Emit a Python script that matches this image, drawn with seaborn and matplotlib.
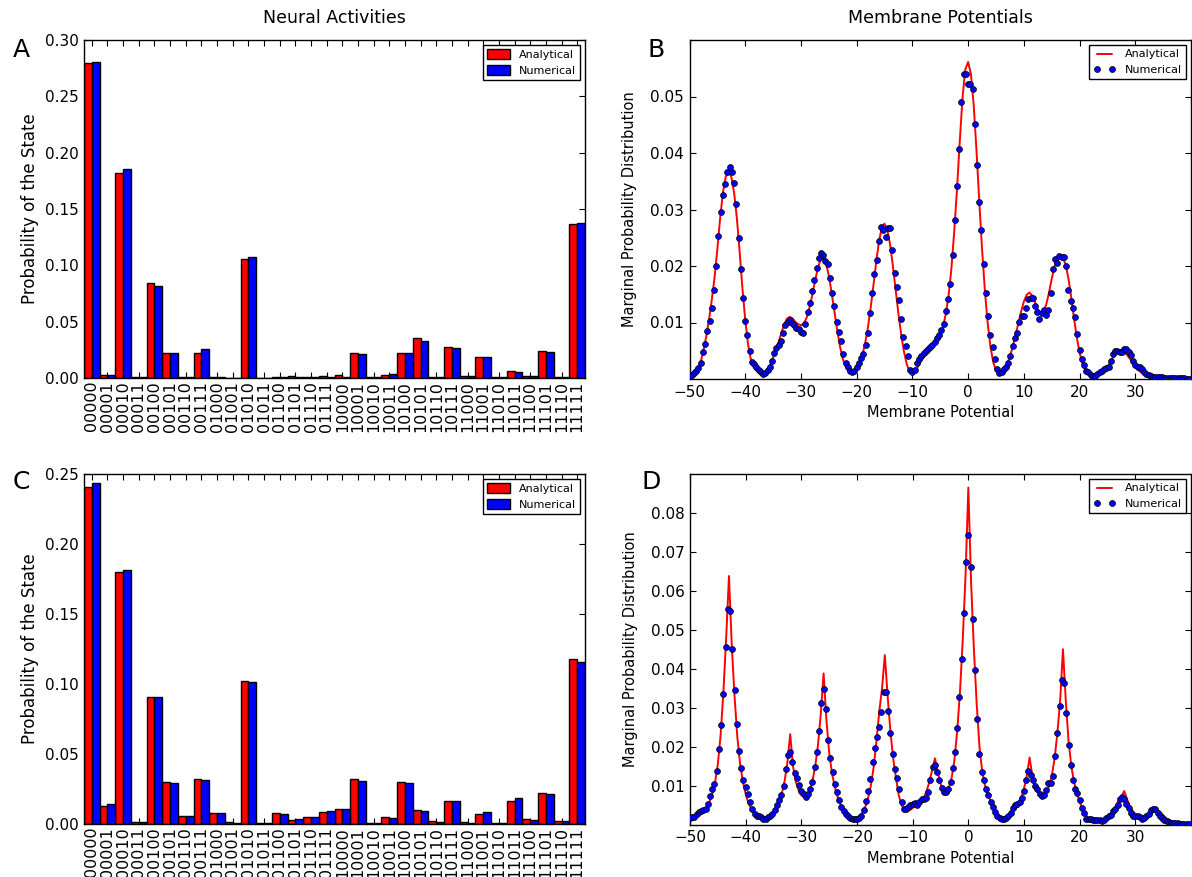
import numpy as np
import pandas as pd
import matplotlib
matplotlib.use("Agg")
import matplotlib.pyplot as plt
from matplotlib.patches import Patch
from matplotlib.lines import Line2D
import seaborn as sns

# ---------------- data ----------------
STATES = ["00000", "00001", "00010", "00011", "00100", "00101", "00110", "00111",
          "01000", "01001", "01010", "01011", "01100", "01101", "01110", "01111",
          "10000", "10001", "10010", "10011", "10100", "10101", "10110", "10111",
          "11000", "11001", "11010", "11011", "11100", "11101", "11110", "11111"]

A_ANALYTICAL = [0.2793, 0.0024, 0.1818, 0.0009, 0.0842, 0.0222, 0.0005, 0.0219,
                0.0010, 0.0004, 0.1058, 0.0002, 0.0008, 0.0015, 0.0012, 0.0015,
                0.0024, 0.0222, 0.0005, 0.0030, 0.0222, 0.0355, 0.0008, 0.0272,
                0.0020, 0.0186, 0.0005, 0.0062, 0.0015, 0.0239, 0.0005, 0.1366]
A_NUMERICAL = [0.2802, 0.0027, 0.1853, 0.0009, 0.0816, 0.0222, 0.0005, 0.0254,
               0.0008, 0.0003, 0.1073, 0.0002, 0.0008, 0.0012, 0.0012, 0.0013,
               0.0010, 0.0213, 0.0005, 0.0033, 0.0222, 0.0325, 0.0008, 0.0266,
               0.0020, 0.0186, 0.0005, 0.0056, 0.0018, 0.0228, 0.0005, 0.1380]
C_ANALYTICAL = [0.2410, 0.0129, 0.1802, 0.0017, 0.0909, 0.0298, 0.0060, 0.0319,
                0.0076, 0.0012, 0.1023, 0.0005, 0.0076, 0.0026, 0.0050, 0.0083,
                0.0109, 0.0321, 0.0005, 0.0048, 0.0298, 0.0100, 0.0019, 0.0164,
                0.0014, 0.0071, 0.0005, 0.0167, 0.0033, 0.0219, 0.0019, 0.1176]
C_NUMERICAL = [0.2433, 0.0140, 0.1814, 0.0012, 0.0909, 0.0295, 0.0055, 0.0312,
               0.0076, 0.0010, 0.1016, 0.0005, 0.0071, 0.0033, 0.0052, 0.0095,
               0.0105, 0.0310, 0.0005, 0.0045, 0.0290, 0.0095, 0.0014, 0.0162,
               0.0010, 0.0083, 0.0005, 0.0186, 0.0031, 0.0212, 0.0019, 0.1157]

# membrane potential sampling grids (start, step)
V_START = -50.0
ANA_STEP = 0.5
NUM_STEP = 0.4

B_ANALYTICAL = [
    0.0004, 0.0007, 0.0012, 0.0019, 0.0030, 0.0050, 0.0075, 0.0105, 0.0140, 0.0180,
    0.0230, 0.0285, 0.0330, 0.0358, 0.0367, 0.0358, 0.0330, 0.0285, 0.0225, 0.0160,
    0.0105, 0.0062, 0.0035, 0.0022, 0.0015, 0.0010, 0.0008, 0.0010, 0.0016, 0.0025,
    0.0038, 0.0052, 0.0066, 0.0082, 0.0097, 0.0107, 0.0110, 0.0107, 0.0101, 0.0097,
    0.0095, 0.0098, 0.0108, 0.0125, 0.0147, 0.0172, 0.0195, 0.0211, 0.0214, 0.0205,
    0.0183, 0.0153, 0.0120, 0.0087, 0.0058, 0.0036, 0.0022, 0.0014, 0.0011, 0.0012,
    0.0018, 0.0028, 0.0042, 0.0062, 0.0090, 0.0125, 0.0165, 0.0207, 0.0243, 0.0268,
    0.0275, 0.0264, 0.0238, 0.0200, 0.0157, 0.0115, 0.0078, 0.0048, 0.0026, 0.0013,
    0.0009, 0.0014, 0.0022, 0.0031, 0.0038, 0.0044, 0.0049, 0.0054, 0.0060, 0.0068,
    0.0078, 0.0093, 0.0115, 0.0148, 0.0195, 0.0260, 0.0335, 0.0420, 0.0498, 0.0548,
    0.0561, 0.0540, 0.0485, 0.0405, 0.0315, 0.0230, 0.0158, 0.0100, 0.0058, 0.0030,
    0.0015, 0.0010, 0.0012, 0.0018, 0.0027, 0.0040, 0.0057, 0.0077, 0.0098, 0.0119,
    0.0137, 0.0149, 0.0153, 0.0148, 0.0136, 0.0123, 0.0117, 0.0119, 0.0131, 0.0152,
    0.0177, 0.0199, 0.0212, 0.0217, 0.0215, 0.0203, 0.0178, 0.0145, 0.0108, 0.0074,
    0.0047, 0.0028, 0.0016, 0.0010, 0.0007, 0.0006, 0.0007, 0.0009, 0.0012, 0.0016,
    0.0022, 0.0030, 0.0038, 0.0045, 0.0049, 0.0050, 0.0048, 0.0043, 0.0036, 0.0029,
    0.0022, 0.0016, 0.0012, 0.0009, 0.0007, 0.0005, 0.0004, 0.0003, 0.0003, 0.0002,
    0.0002, 0.0002, 0.0001, 0.0001, 0.0001, 0.0001, 0.0001, 0.0001, 0.0000, 0.0000]

B_NUMERICAL = [
    0.0005, 0.0007, 0.0010, 0.0015, 0.0019, 0.0029, 0.0048, 0.0062, 0.0085, 0.0102,
    0.0125, 0.0158, 0.0200, 0.0253, 0.0295, 0.0325, 0.0345, 0.0366, 0.0375, 0.0366,
    0.0347, 0.0310, 0.0250, 0.0195, 0.0144, 0.0103, 0.0078, 0.0049, 0.0030, 0.0026,
    0.0021, 0.0016, 0.0012, 0.0009, 0.0010, 0.0016, 0.0022, 0.0032, 0.0046, 0.0054,
    0.0060, 0.0068, 0.0082, 0.0096, 0.0101, 0.0104, 0.0099, 0.0095, 0.0091, 0.0088,
    0.0084, 0.0082, 0.0097, 0.0118, 0.0135, 0.0156, 0.0176, 0.0197, 0.0215, 0.0223,
    0.0219, 0.0209, 0.0203, 0.0179, 0.0152, 0.0129, 0.0101, 0.0084, 0.0068, 0.0044,
    0.0028, 0.0021, 0.0014, 0.0012, 0.0015, 0.0021, 0.0029, 0.0038, 0.0044, 0.0061,
    0.0082, 0.0116, 0.0152, 0.0185, 0.0210, 0.0244, 0.0269, 0.0263, 0.0252, 0.0267,
    0.0267, 0.0228, 0.0187, 0.0163, 0.0139, 0.0106, 0.0075, 0.0058, 0.0041, 0.0016,
    0.0012, 0.0016, 0.0029, 0.0036, 0.0041, 0.0046, 0.0050, 0.0053, 0.0056, 0.0060,
    0.0066, 0.0072, 0.0078, 0.0087, 0.0098, 0.0120, 0.0142, 0.0168, 0.0219, 0.0282,
    0.0342, 0.0407, 0.0490, 0.0539, 0.0539, 0.0523, 0.0523, 0.0513, 0.0452, 0.0379,
    0.0314, 0.0263, 0.0204, 0.0153, 0.0111, 0.0078, 0.0056, 0.0035, 0.0018, 0.0010,
    0.0013, 0.0018, 0.0022, 0.0029, 0.0040, 0.0059, 0.0073, 0.0082, 0.0101, 0.0112,
    0.0112, 0.0125, 0.0141, 0.0144, 0.0144, 0.0129, 0.0118, 0.0107, 0.0116, 0.0123,
    0.0113, 0.0122, 0.0153, 0.0195, 0.0213, 0.0206, 0.0218, 0.0216, 0.0216, 0.0200,
    0.0158, 0.0138, 0.0126, 0.0109, 0.0079, 0.0052, 0.0036, 0.0024, 0.0015, 0.0012,
    0.0007, 0.0005, 0.0006, 0.0009, 0.0012, 0.0015, 0.0018, 0.0019, 0.0021, 0.0032,
    0.0044, 0.0050, 0.0050, 0.0047, 0.0047, 0.0053, 0.0053, 0.0047, 0.0042, 0.0032,
    0.0024, 0.0021, 0.0021, 0.0018, 0.0013, 0.0009, 0.0007, 0.0005, 0.0004, 0.0004,
    0.0003, 0.0003, 0.0003, 0.0002, 0.0002, 0.0002, 0.0002, 0.0001, 0.0001, 0.0001,
    0.0001, 0.0001, 0.0001, 0.0000, 0.0000]

D_ANALYTICAL = [
    0.0015, 0.0018, 0.0022, 0.0026, 0.0030, 0.0036, 0.0045, 0.0058, 0.0078, 0.0108,
    0.0155, 0.0230, 0.0340, 0.0480, 0.0638, 0.0460, 0.0330, 0.0225, 0.0155, 0.0110,
    0.0078, 0.0055, 0.0040, 0.0030, 0.0023, 0.0019, 0.0016, 0.0016, 0.0019, 0.0025,
    0.0033, 0.0045, 0.0060, 0.0080, 0.0112, 0.0160, 0.0232, 0.0150, 0.0110, 0.0088,
    0.0075, 0.0070, 0.0073, 0.0088, 0.0112, 0.0150, 0.0205, 0.0285, 0.0388, 0.0270,
    0.0185, 0.0132, 0.0097, 0.0072, 0.0053, 0.0039, 0.0029, 0.0022, 0.0018, 0.0016,
    0.0017, 0.0022, 0.0031, 0.0046, 0.0068, 0.0100, 0.0148, 0.0215, 0.0290, 0.0350,
    0.0435, 0.0330, 0.0240, 0.0170, 0.0120, 0.0075, 0.0050, 0.0038, 0.0035, 0.0037,
    0.0042, 0.0048, 0.0055, 0.0062, 0.0070, 0.0085, 0.0110, 0.0140, 0.0170, 0.0135,
    0.0105, 0.0088, 0.0085, 0.0095, 0.0120, 0.0165, 0.0240, 0.0340, 0.0475, 0.0640,
    0.0865, 0.0620, 0.0450, 0.0310, 0.0200, 0.0135, 0.0100, 0.0078, 0.0060, 0.0044,
    0.0032, 0.0022, 0.0017, 0.0016, 0.0018, 0.0024, 0.0033, 0.0043, 0.0053, 0.0068,
    0.0092, 0.0125, 0.0172, 0.0125, 0.0098, 0.0082, 0.0073, 0.0072, 0.0080, 0.0098,
    0.0125, 0.0170, 0.0235, 0.0320, 0.0450, 0.0320, 0.0215, 0.0150, 0.0108, 0.0080,
    0.0058, 0.0040, 0.0027, 0.0018, 0.0013, 0.0010, 0.0009, 0.0009, 0.0010, 0.0013,
    0.0018, 0.0025, 0.0035, 0.0048, 0.0062, 0.0072, 0.0086, 0.0065, 0.0048, 0.0035,
    0.0027, 0.0022, 0.0020, 0.0020, 0.0022, 0.0026, 0.0031, 0.0035, 0.0037, 0.0032,
    0.0024, 0.0017, 0.0012, 0.0008, 0.0006, 0.0004, 0.0003, 0.0002, 0.0002, 0.0001]

D_NUMERICAL = [
    0.0017, 0.0019, 0.0019, 0.0026, 0.0032, 0.0035, 0.0037, 0.0041, 0.0052, 0.0073,
    0.0090, 0.0104, 0.0138, 0.0195, 0.0256, 0.0335, 0.0456, 0.0554, 0.0547, 0.0451,
    0.0345, 0.0259, 0.0190, 0.0144, 0.0115, 0.0096, 0.0079, 0.0059, 0.0040, 0.0028,
    0.0023, 0.0022, 0.0019, 0.0015, 0.0013, 0.0019, 0.0023, 0.0028, 0.0036, 0.0051,
    0.0062, 0.0075, 0.0100, 0.0143, 0.0178, 0.0185, 0.0161, 0.0132, 0.0119, 0.0102,
    0.0085, 0.0079, 0.0070, 0.0079, 0.0092, 0.0109, 0.0147, 0.0185, 0.0241, 0.0313,
    0.0349, 0.0296, 0.0218, 0.0170, 0.0134, 0.0104, 0.0083, 0.0064, 0.0045, 0.0034,
    0.0028, 0.0022, 0.0017, 0.0015, 0.0015, 0.0015, 0.0017, 0.0023, 0.0036, 0.0060,
    0.0087, 0.0117, 0.0161, 0.0196, 0.0225, 0.0250, 0.0290, 0.0339, 0.0341, 0.0292,
    0.0235, 0.0180, 0.0143, 0.0119, 0.0092, 0.0059, 0.0040, 0.0039, 0.0045, 0.0049,
    0.0053, 0.0056, 0.0049, 0.0057, 0.0066, 0.0066, 0.0069, 0.0083, 0.0113, 0.0147,
    0.0153, 0.0134, 0.0115, 0.0093, 0.0083, 0.0083, 0.0090, 0.0110, 0.0146, 0.0187,
    0.0249, 0.0328, 0.0425, 0.0543, 0.0673, 0.0744, 0.0661, 0.0528, 0.0398, 0.0271,
    0.0181, 0.0136, 0.0113, 0.0092, 0.0075, 0.0059, 0.0045, 0.0032, 0.0023, 0.0017,
    0.0015, 0.0015, 0.0017, 0.0022, 0.0030, 0.0042, 0.0049, 0.0053, 0.0059, 0.0068,
    0.0085, 0.0115, 0.0138, 0.0127, 0.0113, 0.0100, 0.0090, 0.0079, 0.0073, 0.0075,
    0.0089, 0.0107, 0.0107, 0.0124, 0.0175, 0.0236, 0.0305, 0.0371, 0.0363, 0.0286,
    0.0205, 0.0153, 0.0113, 0.0092, 0.0081, 0.0062, 0.0042, 0.0030, 0.0013, 0.0013,
    0.0013, 0.0011, 0.0011, 0.0011, 0.0011, 0.0008, 0.0011, 0.0017, 0.0022, 0.0025,
    0.0034, 0.0039, 0.0051, 0.0066, 0.0070, 0.0066, 0.0053, 0.0042, 0.0030, 0.0023,
    0.0022, 0.0022, 0.0019, 0.0013, 0.0017, 0.0023, 0.0028, 0.0036, 0.0040, 0.0039,
    0.0030, 0.0023, 0.0017, 0.0011, 0.0008, 0.0006, 0.0005, 0.0004, 0.0003, 0.0003,
    0.0002, 0.0002, 0.0002, 0.0001, 0.0001]

B_YTICKS = [0.01, 0.02, 0.03, 0.04, 0.05]
D_YTICKS = [0.01, 0.02, 0.03, 0.04, 0.05, 0.06, 0.07, 0.08]
V_TICKS = [-50, -40, -30, -20, -10, 0, 10, 20, 30]

# ---------------- style ----------------
sns.set_theme(style="ticks")
plt.rcParams.update({
    "font.family": ["DejaVu Sans"],
    "axes.edgecolor": "black",
    "axes.linewidth": 1.0,
    "axes.labelcolor": "black",
    "text.color": "black",
    "xtick.color": "black",
    "ytick.color": "black",
    "xtick.direction": "in",
    "ytick.direction": "in",
    "xtick.top": True,
    "ytick.right": True,
    "xtick.major.size": 4,
    "ytick.major.size": 4,
    "xtick.major.width": 0.8,
    "ytick.major.width": 0.8,
    "xtick.major.pad": 4,
    "ytick.major.pad": 4,
})

W, H = 1192, 877
fig = plt.figure(figsize=(W / 100, H / 100), dpi=100)


def axes_px(left, top, right, bottom):
    return fig.add_axes([left / W, 1 - bottom / H, (right - left) / W, (bottom - top) / H])


axA = axes_px(84, 40, 585, 378)
axB = axes_px(689.5, 40, 1191, 379)
axC = axes_px(84, 474, 585, 824)
axD = axes_px(690, 474, 1191, 824.5)

COLORS = {"Analytical": "red", "Numerical": "blue"}


def bar_panel(ax, ana, num, ymax):
    df = pd.DataFrame({
        "state": STATES + STATES,
        "p": ana + num,
        "method": ["Analytical"] * len(STATES) + ["Numerical"] * len(STATES),
    })
    sns.barplot(data=df, x="state", y="p", hue="method", order=STATES,
                hue_order=["Analytical", "Numerical"], palette=COLORS,
                saturation=1, width=1.0, edgecolor="black", linewidth=1.0,
                errorbar=None, legend=False, ax=ax)
    ax.set_xlim(-0.5, len(STATES) - 0.5)
    ax.set_ylim(0, ymax)
    ax.tick_params(axis="x", labelrotation=90, labelsize=11.5, pad=2)
    ax.tick_params(axis="y", labelsize=11)
    ax.set_xlabel("")
    ax.set_ylabel("Probability of the State", fontsize=12)
    ax.yaxis.set_label_coords(-0.09, 0.5)
    handles = [Patch(facecolor=COLORS[k], edgecolor="black", label=k) for k in COLORS]
    leg = ax.legend(handles=handles, loc="upper right", fontsize=8, fancybox=False,
                    framealpha=1, edgecolor="black", borderaxespad=0.45,
                    handlelength=2.0, handleheight=0.9)
    leg.get_frame().set_linewidth(1.0)


def curve_panel(ax, ana, num, ymax, yticks):
    xa = V_START + ANA_STEP * np.arange(len(ana))
    xn = V_START + NUM_STEP * np.arange(len(num))
    sns.lineplot(x=xa, y=ana, color="red", linewidth=1.4, ax=ax, legend=False)
    sns.scatterplot(x=xn, y=num, color="blue", s=18, edgecolor="black",
                    linewidth=0.5, ax=ax, legend=False, zorder=3)
    ax.set_xlim(-50, 40)
    ax.set_ylim(0, ymax)
    ax.set_xticks(V_TICKS)
    ax.set_yticks(yticks)
    ax.tick_params(axis="both", labelsize=11)
    ax.set_xlabel("Membrane Potential", fontsize=10.5, labelpad=4)
    ax.set_ylabel("Marginal Probability Distribution", fontsize=10.5)
    ax.yaxis.set_label_coords(-0.104, 0.5)
    handles = [Line2D([], [], color="red", linewidth=1.4),
               Line2D([], [], linestyle="none", marker="o", markersize=4.3,
                      markerfacecolor="blue", markeredgecolor="black",
                      markeredgewidth=0.5)]
    leg = ax.legend(handles, ["Analytical", "Numerical"], loc="upper right",
                    fontsize=8, numpoints=2, fancybox=False, framealpha=1,
                    edgecolor="black", borderaxespad=0.45, handlelength=2.0)
    leg.get_frame().set_linewidth(1.0)


bar_panel(axA, A_ANALYTICAL, A_NUMERICAL, 0.30)
bar_panel(axC, C_ANALYTICAL, C_NUMERICAL, 0.25)
curve_panel(axB, B_ANALYTICAL, B_NUMERICAL, 0.06, B_YTICKS)
curve_panel(axD, D_ANALYTICAL, D_NUMERICAL, 0.09, D_YTICKS)

fig.text(334 / W, 1 - 18 / H, "Neural Activities", ha="center", va="center", fontsize=12.5)
fig.text(940 / W, 1 - 18 / H, "Membrane Potentials", ha="center", va="center", fontsize=12.5)
for lbl, (px, py) in {"A": (21, 50), "B": (656, 50), "C": (21, 482), "D": (651, 482)}.items():
    fig.text(px / W, 1 - py / H, lbl, ha="center", va="center", fontsize=18)

fig.savefig("out.png", dpi=100)
